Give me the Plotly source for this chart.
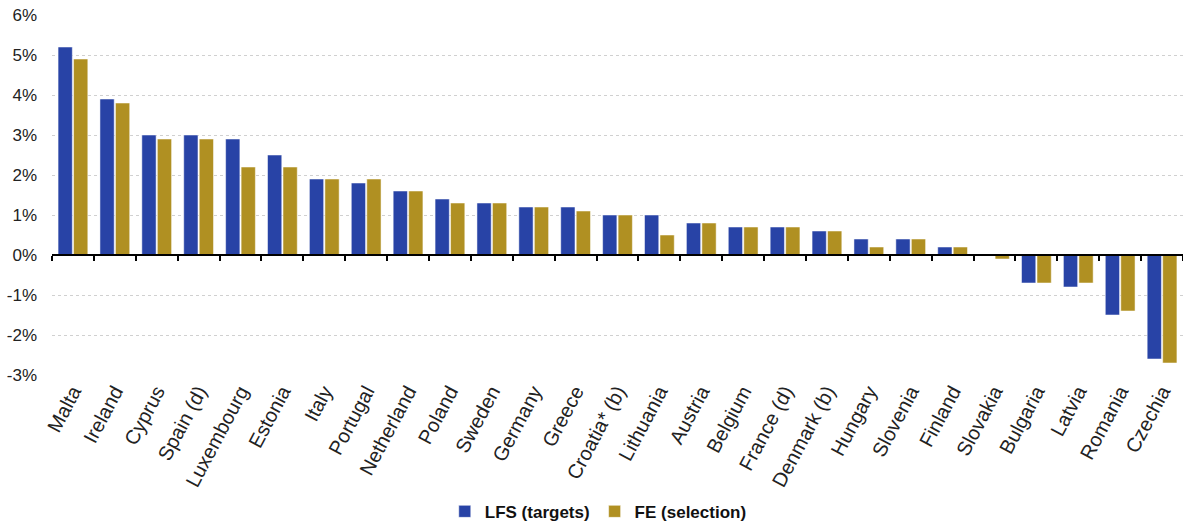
import plotly.graph_objects as go

countries = ["Malta", "Ireland", "Cyprus", "Spain (d)", "Luxembourg", "Estonia", "Italy",
             "Portugal", "Netherland", "Poland", "Sweden", "Germany", "Greece", "Croatia* (b)",
             "Lithuania", "Austria", "Belgium", "France (d)", "Denmark (b)", "Hungary",
             "Slovenia", "Finland", "Slovakia", "Bulgaria", "Latvia", "Romania", "Czechia"]
lfs_targets = [5.2, 3.9, 3.0, 3.0, 2.9, 2.5, 1.9, 1.8, 1.6, 1.4, 1.3, 1.2, 1.2, 1.0,
               1.0, 0.8, 0.7, 0.7, 0.6, 0.4, 0.4, 0.2, 0.0, -0.7, -0.8, -1.5, -2.6]
fe_selection = [4.9, 3.8, 2.9, 2.9, 2.2, 2.2, 1.9, 1.9, 1.6, 1.3, 1.3, 1.2, 1.1, 1.0,
                0.5, 0.8, 0.7, 0.7, 0.6, 0.2, 0.4, 0.2, -0.1, -0.7, -0.7, -1.4, -2.7]
y_ticks = [-3, -2, -1, 0, 1, 2, 3, 4, 5, 6]
y_ticktext = [f"{v}%" for v in y_ticks]

BLUE = "#2843A6"
GOLD = "#B09022"
FONT = "Liberation Sans, Arial, sans-serif"

fig = go.Figure()
fig.add_trace(go.Bar(x=countries, y=lfs_targets, name="LFS (targets)",
                     marker=dict(color=BLUE, line=dict(color="rgba(255,255,255,0.5)", width=1))))
fig.add_trace(go.Bar(x=countries, y=fe_selection, name="FE (selection)",
                     marker=dict(color=GOLD, line=dict(color="rgba(255,255,255,0.5)", width=1))))
# invisible trace to carry the zero-line axis with boundary ticks
fig.add_trace(go.Scatter(x=countries, y=[None] * len(countries), xaxis="x2",
                         showlegend=False, hoverinfo="skip", mode="lines"))

fig.update_layout(
    width=1183, height=525,
    margin=dict(l=52, r=0, t=15, b=150, autoexpand=False),
    paper_bgcolor="white", plot_bgcolor="white",
    barmode="group", bargap=0.26, bargroupgap=0.08,
    font=dict(family=FONT, color="#222222"),
    showlegend=True,
    legend=dict(orientation="h", x=0.483, xanchor="center", y=-0.38, yanchor="middle",
                font=dict(size=17, color="#111111", family=FONT, weight="bold"),
                itemwidth=30, traceorder="normal"),
    xaxis=dict(type="category", categoryorder="array", categoryarray=countries,
               showline=False, ticks="", tickangle=-62, showgrid=False, automargin=False,
               tickfont=dict(size=20, color="#222222"), zeroline=False),
    xaxis2=dict(type="category", categoryorder="array", categoryarray=countries,
                overlaying="x", matches="x", anchor="free", position=1/3, side="bottom",
                showline=True, linecolor="#000000", linewidth=2,
                ticks="outside", tickson="boundaries", ticklen=5, tickcolor="#000000",
                tickwidth=1.5, showticklabels=False, showgrid=False, zeroline=False),
    yaxis=dict(range=[-3, 6], tickvals=y_ticks, ticktext=y_ticktext, automargin=False,
               showgrid=True, gridcolor="#d0d0d0", griddash="dot", gridwidth=1,
               zeroline=False, showline=False, ticks="",
               tickfont=dict(size=17, color="#222222"), ticklabelstandoff=14),
)

fig.write_html("out.html")
